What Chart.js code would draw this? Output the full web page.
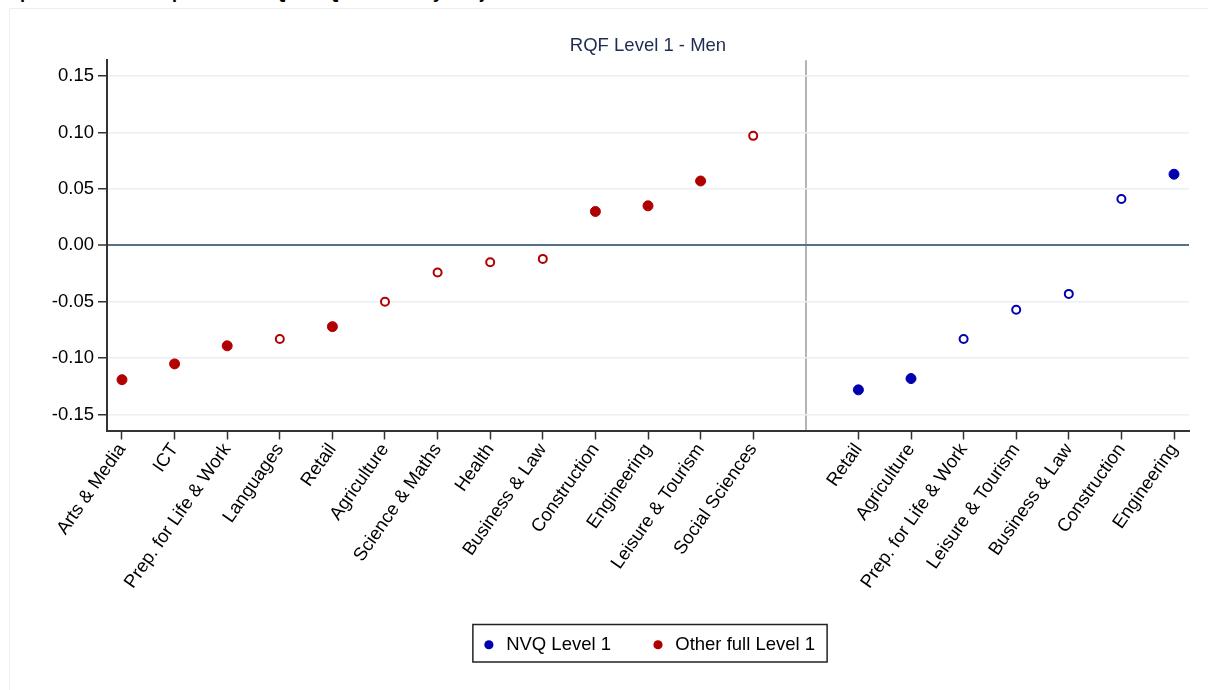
<!DOCTYPE html>
<html>
<head>
<meta charset="utf-8">
<script src="https://cdn.jsdelivr.net/npm/chart.js@4.4.1/dist/chart.umd.min.js"></script>
<style>
  html, body { margin: 0; padding: 0; background: #fff; overflow: hidden; }
  body { width: 1208px; height: 690px; position: relative; font-family: Arial, "Liberation Sans", sans-serif; }
  #heading { position: absolute; left: 14px; top: -17px; font-weight: bold; font-size: 18px; line-height: 18px; color: #000; white-space: nowrap; }
  #panel { position: absolute; left: 9px; top: 8px; width: 1300px; height: 800px; border: 1px solid #eceff2; }
  #wrap { position: absolute; left: 0; top: 0; width: 1208px; height: 690px; }
</style>
</head>
<body>
<div id="heading">qualifications compared to NVQ at RQF Level 1 by subject area</div>
<div id="panel"></div>
<div id="wrap"><canvas id="chart"></canvas></div>
<script>
// other full level 1 subjects (left block) and NVQ subjects (right block)
const otherSubjects = ['Arts & Media', 'ICT', 'Prep. for Life & Work', 'Languages', 'Retail', 'Agriculture',
  'Science & Maths', 'Health', 'Business & Law', 'Construction', 'Engineering', 'Leisure & Tourism', 'Social Sciences'];
const otherValues = [-0.119, -0.105, -0.089, -0.083, -0.072, -0.050, -0.024, -0.015, -0.012, 0.030, 0.035, 0.057, 0.097];
const otherSignificant = [true, true, true, false, true, false, false, false, false, true, true, true, false];

const nvqSubjects = ['Retail', 'Agriculture', 'Prep. for Life & Work', 'Leisure & Tourism', 'Business & Law', 'Construction', 'Engineering'];
const nvqValues = [-0.128, -0.118, -0.083, -0.057, -0.043, 0.041, 0.063];
const nvqSignificant = [true, true, false, false, false, false, true];

const yTicks = [-0.15, -0.10, -0.05, 0.00, 0.05, 0.10, 0.15];

// one empty slot separates the two blocks
const xLabels = [...otherSubjects, '', ...nvqSubjects];
const nvqStart = otherSubjects.length + 1;

const RED = '#b00000';
const BLUE = '#0000b0';
const FONT = { family: 'Arial, "Liberation Sans", sans-serif', size: 18.5 };

function points(values, offset){
    return values.map((v, i) => ({ x: offset + i, y: v }));
}

function markerStyle(flags, color){
    return {
        pointBackgroundColor: flags.map(f => f ? color : '#ffffff'),
        pointBorderColor: color,
        pointBorderWidth: flags.map(f => f ? 1 : 2),
        pointRadius: flags.map(f => f ? 5 : 4),
        pointHoverRadius: flags.map(f => f ? 5 : 4)
    };
}

// centre title and legend on the plot area, and frame the legend
const framePlugin = {
    id: 'frame',
    afterUpdate(chart){
        const mid = (chart.chartArea.left + chart.chartArea.right) / 2;
        const title = chart.titleBlock;
        if (title){
            const s = mid - (title.left + title.right) / 2;
            title.left += s; title.right += s;
        }
        const legend = chart.legend;
        if (legend && legend.legendHitBoxes.length){
            const boxes = legend.legendHitBoxes;
            const l = boxes[0].left;
            const r = boxes[boxes.length - 1].left + boxes[boxes.length - 1].width;
            const s = mid - (l + r) / 2;
            legend.left += s; legend.right += s;
            boxes.forEach(b => b.left += s);
        }
    },
    afterDraw(chart){
        const boxes = chart.legend.legendHitBoxes;
        if (!boxes.length) return;
        const ctx = chart.ctx;
        const l = boxes[0].left - 8;
        const r = boxes[boxes.length - 1].left + boxes[boxes.length - 1].width + 12;
        const t = boxes[0].top - 11;
        const b = boxes[0].top + boxes[0].height + 8;
        ctx.save();
        ctx.strokeStyle = '#222';
        ctx.lineWidth = 1.5;
        ctx.strokeRect(l, t, r - l, b - t);
        ctx.restore();
    }
};

const ctx = document.getElementById('chart');
new Chart(ctx, {
    type: 'scatter',
    data: {
        datasets: [
            Object.assign({ label: 'NVQ Level 1', data: points(nvqValues, nvqStart), backgroundColor: BLUE, borderColor: BLUE }, markerStyle(nvqSignificant, BLUE)),
            Object.assign({ label: 'Other full Level 1', data: points(otherValues, 0), backgroundColor: RED, borderColor: RED }, markerStyle(otherSignificant, RED))
        ]
    },
    options: {
        responsive: true,
        maintainAspectRatio: false,
        animation: false,
        layout: { padding: { left: 10, right: 19, top: 0, bottom: 26 } },
        plugins: {
            title: {
                display: true,
                text: 'RQF Level 1 - Men',
                color: '#1f2d4f',
                font: Object.assign({ weight: 'normal' }, FONT),
                padding: { top: 35, bottom: 3 }
            },
            legend: {
                position: 'bottom',
                labels: {
                    usePointStyle: true,
                    boxWidth: 16,
                    boxHeight: 6.5,
                    padding: 39,
                    color: '#000',
                    font: FONT,
                    generateLabels(chart){
                        return chart.data.datasets.map((ds, i) => ({
                            text: ds.label,
                            fillStyle: ds.borderColor,
                            strokeStyle: ds.borderColor,
                            lineWidth: 0,
                            pointStyle: 'circle',
                            datasetIndex: i,
                            hidden: false
                        }));
                    }
                }
            },
            tooltip: { enabled: false }
        },
        scales: {
            x: {
                type: 'linear',
                min: -0.285,
                max: xLabels.length - 1 + 0.285,
                afterBuildTicks(scale){
                    scale.ticks = xLabels.map((_, i) => ({ value: i }));
                },
                afterFit(scale){ scale.height = 166; },
                ticks: {
                    autoSkip: false,
                    minRotation: 55,
                    maxRotation: 55,
                    padding: 0,
                    color: '#000',
                    font: FONT,
                    callback: (v) => xLabels[v]
                },
                grid: {
                    drawOnChartArea: true,
                    tickLength: 9,
                    color: (c) => c.tick && c.tick.value === nvqStart - 1 ? '#b4b4b4' : 'rgba(0,0,0,0)',
                    lineWidth: (c) => c.tick && c.tick.value === nvqStart - 1 ? 2 : 1,
                    tickColor: (c) => c.tick && c.tick.value === nvqStart - 1 ? 'rgba(0,0,0,0)' : '#333',
                    tickWidth: 1.5
                },
                border: { color: '#333', width: 2 }
            },
            y: {
                min: -0.164,
                max: 0.164,
                afterBuildTicks(scale){
                    scale.ticks = yTicks.map(v => ({ value: v }));
                },
                afterFit(scale){ scale.width = 97; },
                ticks: {
                    padding: 4,
                    color: '#000',
                    font: FONT,
                    callback: (v) => v.toFixed(2)
                },
                grid: {
                    tickLength: 9,
                    color: (c) => c.tick && Math.abs(c.tick.value) < 1e-9 ? '#56708a' : '#eaf0f4',
                    lineWidth: (c) => c.tick && Math.abs(c.tick.value) < 1e-9 ? 2 : 1.5,
                    tickColor: '#333',
                    tickWidth: 1.5
                },
                border: { color: '#333', width: 2 }
            }
        }
    },
    plugins: [framePlugin]
});
</script>
</body>
</html>
